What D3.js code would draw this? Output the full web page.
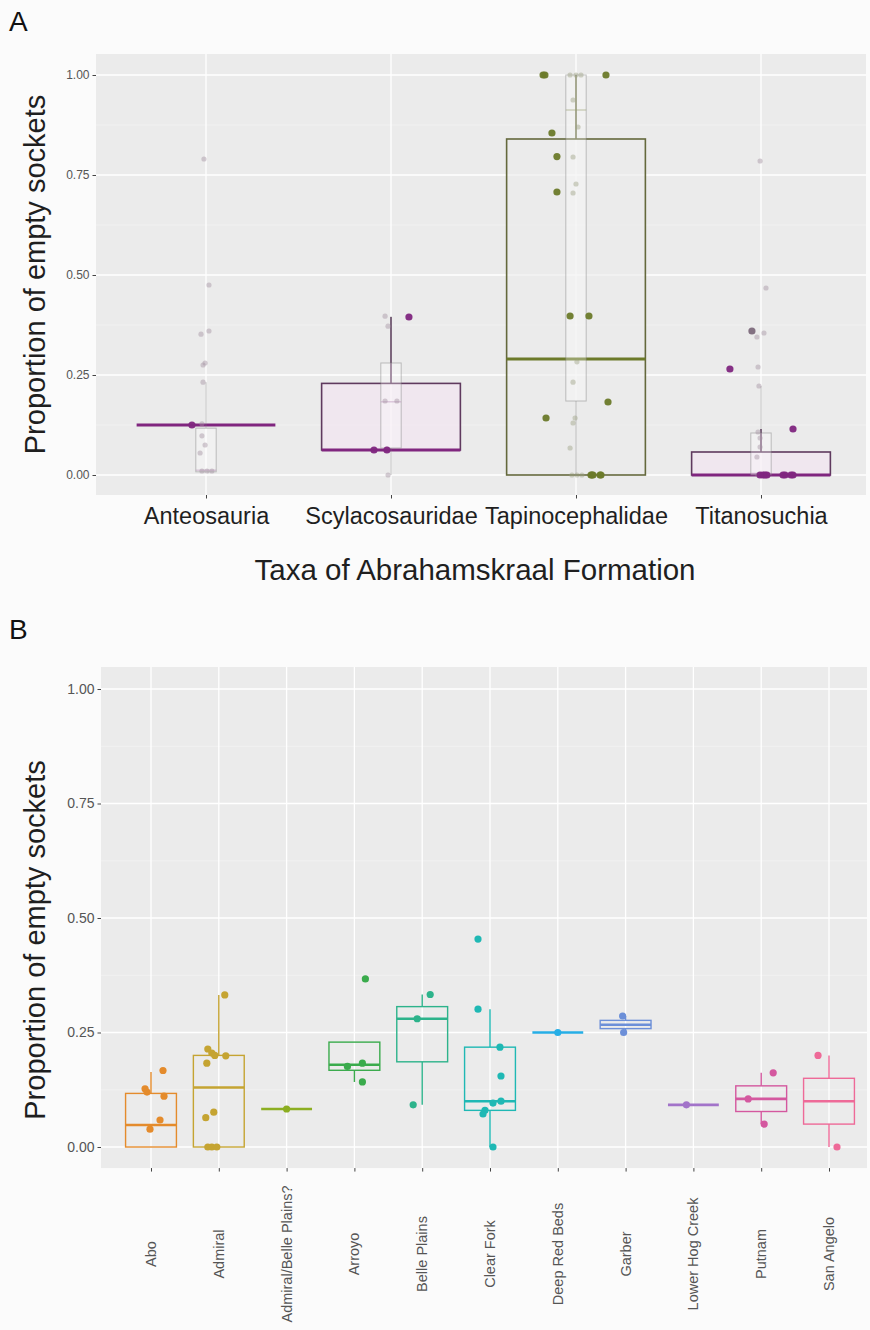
<!DOCTYPE html>
<html>
<head>
<meta charset="utf-8">
<script src="https://cdn.jsdelivr.net/npm/d3@7"></script>
<style>
  html, body { margin: 0; padding: 0; background: #fbfbfb; }
  svg { display: block; font-family: "Liberation Sans", Arial, Helvetica, sans-serif; }
</style>
</head>
<body>
<svg id="fig" width="870" height="1330"></svg>
<script>
// ---------- Panel A: taxa of the Abrahamskraal Formation ----------
const taxaA = ["Anteosauria", "Scylacosauridae", "Tapinocephalidae", "Titanosuchia"];
const taxaAColor = ["#80267f", "#80267f", "#6c7a2a", "#80267f"];
const taxaAEdge = ["#5f3a5e", "#5f3a5e", "#64683c", "#5f3a5e"];
const taxaAFill = ["#f3e4f2", "#f3e4f2", "#ebebeb", "#f3e4f2"];

// summary boxes for the highlighted specimens
const boxA_q1  = [0.125, 0.0625, 0.00, 0.000];
const boxA_med = [0.125, 0.0625, 0.29, 0.000];
const boxA_q3  = [0.125, 0.229,  0.84, 0.0575];
const boxA_lo  = [0.125, 0.0625, 0.00, 0.000];
const boxA_hi  = [0.125, 0.395,  1.00, 0.115];

// summary boxes for the full background sample
const refA_q1  = [0.008, 0.0675, 0.185, 0.000];
const refA_med = [0.012, 0.183,  0.9125, 0.004];
const refA_q3  = [0.117, 0.280,  1.000, 0.105];
const refA_lo  = [0.008, 0.000,  0.000, 0.000];
const refA_hi  = [0.232, 0.397,  1.000, 0.2225];

// highlighted specimens (taxon index, proportion, horizontal jitter in category units)
const ptsA_taxon  = [0, 1, 1, 1, 2, 2, 2, 2, 2, 2, 2, 2, 2, 2, 2, 2, 2, 2, 2,
                     3, 3, 3, 3, 3, 3, 3, 3, 3, 3, 3];
const ptsA_value  = [0.125, 0.395, 0.0625, 0.0625,
                     1.0, 1.0, 1.0, 0.855, 0.796, 0.7075, 0.3975, 0.3975, 0.1825, 0.1425, 0, 0, 0, 0, 0,
                     0.265, 0.36, 0.115, 0, 0, 0, 0, 0, 0, 0, 0];
const ptsA_jitter = [-0.076, 0.097, -0.092, -0.022,
                     -0.178, -0.168, 0.162, -0.13, -0.103, -0.103, -0.032, 0.07, 0.173, -0.162, 0.086, 0.135, 0.081, 0.13, 0.092,
                     -0.168, -0.049, 0.173, 0.022, 0.13, 0.173, -0.005, 0.011, 0.032, 0.119, 0.162];

// background sample specimens
const refA_taxon  = [0,0,0,0,0,0,0,0,0,0,0,0,0,0, 1,1,1,1,1,1,
                     2,2,2,2,2,2,2,2,2,2,2,2,2,2,2,2, 3,3,3,3,3,3,3,3,3,3,3,3,3];
const refA_value  = [0.79, 0.475, 0.36, 0.352, 0.28, 0.275, 0.232, 0.128, 0.098, 0.075, 0.055, 0.01, 0.01, 0.01,
                     0.397, 0.372, 0.185, 0.185, 0.065, 0.0,
                     1.0, 1.0, 1.0, 0.9375, 0.87, 0.795, 0.7275, 0.705, 0.283, 0.232, 0.1425, 0.13, 0.0675, 0, 0, 0,
                     0.785, 0.4675, 0.355, 0.345, 0.27, 0.2225, 0.1075, 0.0925, 0.07, 0.045, 0, 0, 0];
const refA_jitter = [-0.011, 0.016, 0.016, -0.027, -0.005, -0.016, -0.016, -0.022, -0.022, -0.005, -0.032, -0.022, 0.005, 0.032,
                     -0.032, -0.016, -0.032, 0.032, -0.022, -0.016,
                     -0.032, 0, 0.027, -0.016, 0.011, -0.016, 0, -0.016, 0.005, -0.016, -0.005, -0.016, -0.032, -0.022, 0.005, 0.032,
                     -0.005, 0.027, 0.016, -0.022, -0.016, -0.011, -0.016, -0.005, -0.005, -0.022, -0.016, 0.011, 0.027];

// ---------- Panel B: Permian formations ----------
const formations = ["Abo", "Admiral", "Admiral/Belle Plains?", "Arroyo", "Belle Plains", "Clear Fork",
                    "Deep Red Beds", "Garber", "Lower Hog Creek", "Putnam", "San Angelo"];
const formColor = ["#e48b2c", "#c5a432", "#8cae22", "#3aab4c", "#2db38b", "#1fb8b4",
                   "#26aee6", "#6c8fd8", "#a273c9", "#d4589f", "#ee6a98"];

const boxB_q1  = [0.000, 0.000, 0.083, 0.1675, 0.186,  0.080, 0.25, 0.2585, 0.092, 0.0775, 0.05];
const boxB_med = [0.048, 0.130, 0.083, 0.1795, 0.280,  0.100, 0.25, 0.267,  0.092, 0.105,  0.10];
const boxB_q3  = [0.117, 0.200, 0.083, 0.229,  0.3065, 0.218, 0.25, 0.2765, 0.092, 0.1335, 0.15];
const boxB_lo  = [0.000, 0.000, 0.083, 0.142,  0.092,  0.000, 0.25, 0.250,  0.092, 0.050,  0.00];
const boxB_hi  = [0.164, 0.332, 0.083, 0.229,  0.333,  0.301, 0.25, 0.286,  0.092, 0.162,  0.20];

const ptsB_form   = [0,0,0,0,0,0, 1,1,1,1,1,1,1,1,1,1,1, 2, 3,3,3,3, 4,4,4,
                     5,5,5,5,5,5,5,5,5, 6, 7,7, 8, 9,9,9, 10,10];
const ptsB_value  = [0.127, 0.12, 0.167, 0.111, 0.059, 0.039,
                     0.332, 0.214, 0.205, 0.2, 0.199, 0.183, 0.076, 0.064, 0, 0, 0,
                     0.083,
                     0.367, 0.176, 0.183, 0.142,
                     0.333, 0.28, 0.092,
                     0.454, 0.301, 0.218, 0.155, 0.1, 0.096, 0.08, 0.072, 0,
                     0.25,
                     0.286, 0.25,
                     0.092,
                     0.162, 0.105, 0.05,
                     0.2, 0];
const ptsB_jitter = [-0.088, -0.059, 0.177, 0.192, 0.133, -0.015,
                     0.088, -0.162, -0.103, -0.059, 0.103, -0.177, -0.074, -0.192, -0.162, -0.103, -0.029,
                     0,
                     0.162, -0.103, 0.118, 0.118,
                     0.118, -0.074, -0.133,
                     -0.177, -0.177, 0.147, 0.162, 0.162, 0.044, -0.074, -0.103, 0.044,
                     0,
                     -0.044, -0.029,
                     -0.103,
                     0.177, -0.192, 0.044,
                     -0.162, 0.118];

const yTicks = [0, 0.25, 0.5, 0.75, 1];
const yMinor = [0.125, 0.375, 0.625, 0.875];

const svg = d3.select("#fig");
const fmt = d3.format(".2f");

function drawPanel(g, x, y, xExtent, yExtent) {
  g.append("rect")
    .attr("x", xExtent[0]).attr("y", y(yExtent[1]))
    .attr("width", xExtent[1] - xExtent[0]).attr("height", y(yExtent[0]) - y(yExtent[1]))
    .attr("fill", "#ebebeb");
  g.selectAll(".minor").data(yMinor).join("line")
    .attr("x1", xExtent[0]).attr("x2", xExtent[1])
    .attr("y1", d => y(d)).attr("y2", d => y(d))
    .attr("stroke", "#f5f5f5").attr("stroke-width", 0.6);
  g.selectAll(".major").data(yTicks).join("line")
    .attr("x1", xExtent[0]).attr("x2", xExtent[1])
    .attr("y1", d => y(d)).attr("y2", d => y(d))
    .attr("stroke", "#ffffff").attr("stroke-width", 1.3);
  g.selectAll(".vgrid").data(x.domain()).join("line")
    .attr("x1", d => x(d)).attr("x2", d => x(d))
    .attr("y1", y(yExtent[0])).attr("y2", y(yExtent[1]))
    .attr("stroke", "#ffffff").attr("stroke-width", 1.3);
}

function drawBox(g, cx, w, y, s, style) {
  // whiskers
  g.append("line").attr("x1", cx).attr("x2", cx)
    .attr("y1", y(s.q3)).attr("y2", y(s.hi))
    .attr("stroke", style.edge).attr("stroke-width", style.lw).attr("stroke-opacity", style.op);
  g.append("line").attr("x1", cx).attr("x2", cx)
    .attr("y1", y(s.q1)).attr("y2", y(s.lo))
    .attr("stroke", style.edge).attr("stroke-width", style.lw).attr("stroke-opacity", style.op);
  g.append("rect")
    .attr("x", cx - w / 2).attr("width", w)
    .attr("y", y(s.q3)).attr("height", Math.max(0, y(s.q1) - y(s.q3)))
    .attr("fill", style.fill).attr("fill-opacity", style.fillOp)
    .attr("stroke", style.edge).attr("stroke-width", style.lw).attr("stroke-opacity", style.op);
  g.append("line").attr("x1", cx - w / 2).attr("x2", cx + w / 2)
    .attr("y1", y(s.med)).attr("y2", y(s.med))
    .attr("stroke", style.med).attr("stroke-width", style.medW).attr("stroke-opacity", style.op);
}

// ================= Panel A =================
const gA = svg.append("g");
const xA = d3.scalePoint().domain(taxaA).range([206, 761]);
const yA = d3.scaleLinear().domain([0, 1]).range([475, 75]);
const stepA = xA.step();
drawPanel(gA, xA, yA, [96, 866], [-0.05, 1.0525]);

// highlighted boxes
taxaA.forEach((t, i) => {
  drawBox(gA, xA(t), stepA * 0.75, yA,
    {q1: boxA_q1[i], med: boxA_med[i], q3: boxA_q3[i], lo: boxA_lo[i], hi: boxA_hi[i]},
    {edge: taxaAEdge[i], med: taxaAColor[i], fill: taxaAFill[i], fillOp: 0.6, lw: 1.6, medW: 2.8, op: 1});
});
// background sample boxes
taxaA.forEach((t, i) => {
  drawBox(gA, xA(t), stepA * 0.11, yA,
    {q1: refA_q1[i], med: refA_med[i], q3: refA_q3[i], lo: refA_lo[i], hi: refA_hi[i]},
    {edge: "#7a7a7a", med: i === 2 ? "#9aa070" : "#b98fb8", fill: "#ffffff", fillOp: 0.3, lw: 1, medW: 1.4, op: 0.45});
});
// background sample points
gA.selectAll(".refpt").data(refA_value).join("circle")
  .attr("cx", (d, i) => xA(taxaA[refA_taxon[i]]) + refA_jitter[i] * stepA)
  .attr("cy", d => yA(d))
  .attr("r", 2.6)
  .attr("fill", (d, i) => refA_taxon[i] === 2 ? "#9da286" : "#a392a2")
  .attr("fill-opacity", 0.45);
// highlighted points
gA.selectAll(".pt").data(ptsA_value).join("circle")
  .attr("cx", (d, i) => xA(taxaA[ptsA_taxon[i]]) + ptsA_jitter[i] * stepA)
  .attr("cy", d => yA(d))
  .attr("r", 3.6)
  .attr("fill", (d, i) => (ptsA_taxon[i] === 3 && d > 0.3) ? "#7d6a7c" : taxaAColor[ptsA_taxon[i]])
  .attr("fill-opacity", 0.95);

// axes A
const axLA = gA.append("g").attr("transform", "translate(96,0)")
  .call(d3.axisLeft(yA).tickValues(yTicks).tickFormat(fmt).tickSize(3.5).tickPadding(3));
axLA.select(".domain").remove();
axLA.selectAll("line").attr("stroke", "#444");
axLA.selectAll("text").attr("fill", "#555").style("font-size", "12px");

const axBA = gA.append("g").attr("transform", `translate(0,${yA(-0.05)})`)
  .call(d3.axisBottom(xA).tickSize(3.5).tickPadding(9));
axBA.select(".domain").remove();
axBA.selectAll("line").attr("stroke", "#444");
axBA.selectAll("text").attr("fill", "#1f1f1f").style("font-size", "23.5px");

gA.append("text").attr("x", 475).attr("y", 580).attr("text-anchor", "middle")
  .attr("fill", "#1f1f1f").style("font-size", "29.5px").text("Taxa of Abrahamskraal Formation");
gA.append("text").attr("transform", `translate(45,${(yA(-0.05) + yA(1.0525)) / 2}) rotate(-90)`)
  .attr("text-anchor", "middle").attr("fill", "#1f1f1f").style("font-size", "29px")
  .text("Proportion of empty sockets");
gA.append("text").attr("x", 9).attr("y", 31).attr("fill", "#111").style("font-size", "28px").text("A");

// ================= Panel B =================
const gB = svg.append("g");
const xB = d3.scalePoint().domain(formations).range([151, 829]);
const yB = d3.scaleLinear().domain([0, 1]).range([1147, 689]);
const stepB = xB.step();
drawPanel(gB, xB, yB, [101, 867], [-0.046, 1.048]);

formations.forEach((f, i) => {
  drawBox(gB, xB(f), stepB * 0.75, yB,
    {q1: boxB_q1[i], med: boxB_med[i], q3: boxB_q3[i], lo: boxB_lo[i], hi: boxB_hi[i]},
    {edge: formColor[i], med: formColor[i], fill: formColor[i], fillOp: 0.0, lw: 1.4, medW: 2.6, op: 1});
});
gB.selectAll(".pt").data(ptsB_value).join("circle")
  .attr("cx", (d, i) => xB(formations[ptsB_form[i]]) + ptsB_jitter[i] * stepB)
  .attr("cy", d => yB(d))
  .attr("r", 3.6)
  .attr("fill", (d, i) => formColor[ptsB_form[i]]);

const axLB = gB.append("g").attr("transform", "translate(101,0)")
  .call(d3.axisLeft(yB).tickValues(yTicks).tickFormat(fmt).tickSize(3.5).tickPadding(3));
axLB.select(".domain").remove();
axLB.selectAll("line").attr("stroke", "#444");
axLB.selectAll("text").attr("fill", "#555").style("font-size", "14px");

const axBB = gB.append("g").attr("transform", `translate(0,${yB(-0.046)})`)
  .call(d3.axisBottom(xB).tickSize(3.5).tickFormat(() => ""));
axBB.select(".domain").remove();
axBB.selectAll("line").attr("stroke", "#444");
gB.selectAll(".xlab").data(formations).join("text")
  .attr("transform", d => `translate(${xB(d)},1254) rotate(-90)`)
  .attr("text-anchor", "middle").attr("dy", "0.35em")
  .attr("fill", "#555").style("font-size", "14.5px")
  .text(d => d);

gB.append("text").attr("transform", "translate(45,940) rotate(-90)")
  .attr("text-anchor", "middle").attr("fill", "#1f1f1f").style("font-size", "29px")
  .text("Proportion of empty sockets");
gB.append("text").attr("x", 9).attr("y", 639).attr("fill", "#111").style("font-size", "28px").text("B");
</script>
</body>
</html>
